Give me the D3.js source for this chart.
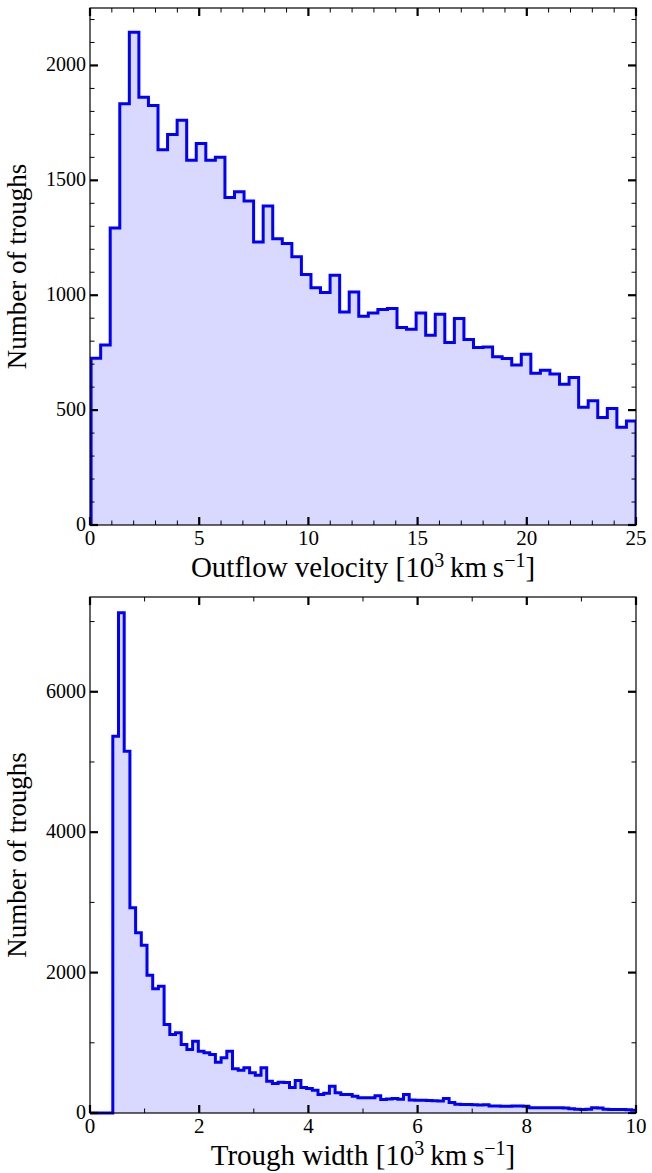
<!DOCTYPE html>
<html>
<head>
<meta charset="utf-8">
<script src="https://cdn.jsdelivr.net/npm/d3@7"></script>
<style>
  html, body { margin: 0; padding: 0; background: #ffffff; }
  svg { display: block; }
  text { font-family: "Liberation Serif", "DejaVu Serif", serif; fill: #000; }
</style>
</head>
<body>
<svg id="chart" width="652" height="1173"></svg>
<script>
// ---- Outflow velocity histogram (10^3 km/s), 57 equal bins ----
const velocityBinLow = 0.05;
const velocityBinHigh = 25;
const velocityCounts = [
  726, 783, 1293, 1833, 2145, 1862, 1826, 1633, 1699, 1761,
  1587, 1660, 1587, 1601, 1425, 1450, 1410, 1232, 1388, 1246,
  1225, 1167, 1090, 1033, 1012, 1087, 927, 1014, 909, 923,
  938, 942, 860, 852, 923, 826, 917, 794, 899, 807,
  773, 775, 732, 725, 696, 743, 660, 674, 657, 613,
  642, 512, 541, 468, 507, 425, 453
];
const velocityXTicks = [0, 5, 10, 15, 20, 25];
const velocityYTicks = [0, 500, 1000, 1500, 2000];

// ---- Trough width histogram (10^3 km/s), bins starting at 0 ----
const widthBinSize = 0.1044;
const widthCounts = [
  0, 0, 0, 0, 5367, 7125, 5154, 2923, 2567, 2390,
  1963, 1769, 1806, 1261, 1118, 1142, 976, 905, 1023, 880,
  857, 833, 724, 786, 880, 630, 610, 644, 573, 538,
  644, 453, 420, 439, 434, 363, 463, 363, 348, 325,
  263, 280, 382, 288, 263, 263, 240, 216, 216, 216,
  245, 192, 200, 205, 195, 265, 185, 182, 180, 178,
  175, 170, 205, 150, 125, 122, 120, 118, 115, 118,
  100, 98, 97, 95, 98, 100, 96, 76, 75, 74,
  74, 75, 74, 72, 60, 52, 50, 52, 74, 72,
  52, 50, 50, 50, 45, 40
];
const widthXTicks = [0, 2, 4, 6, 8, 10];
const widthYTicks = [0, 2000, 4000, 6000];

const svg = d3.select("#chart");
const plotLeft = 90, plotRight = 636;

const panels = [
  {
    top: 8, bottom: 525,
    xDomain: [0, 25], yDomain: [0, 2250],
    edges: d3.range(velocityCounts.length + 1).map(i =>
      velocityBinLow + i * (velocityBinHigh - velocityBinLow) / velocityCounts.length),
    counts: velocityCounts,
    xTicks: velocityXTicks, xMinor: d3.range(0, 26, 1),
    yTicks: velocityYTicks, yMinor: d3.range(0, 2251, 100),
    xLabel: "Outflow velocity",
    id: "vel"
  },
  {
    top: 597, bottom: 1113,
    xDomain: [0, 10], yDomain: [0, 7350],
    edges: d3.range(widthCounts.length + 1).map(i => i * widthBinSize),
    counts: widthCounts,
    xTicks: widthXTicks, xMinor: d3.range(0, 11, 1),
    yTicks: widthYTicks, yMinor: d3.range(0, 7351, 1000),
    xLabel: "Trough width",
    id: "wid"
  }
];

panels.forEach(p => {
  const x = d3.scaleLinear().domain(p.xDomain).range([plotLeft, plotRight]);
  const y = d3.scaleLinear().domain(p.yDomain).range([p.bottom, p.top]);
  const g = svg.append("g");

  g.append("clipPath").attr("id", "clip-" + p.id)
    .append("rect")
    .attr("x", plotLeft).attr("y", p.top - 4)
    .attr("width", plotRight - plotLeft).attr("height", p.bottom - p.top + 8);

  // histogram as step outline
  const n = p.counts.length;
  const pts = p.counts.map((c, i) => [p.edges[i], c]);
  pts.push([p.edges[n], p.counts[n - 1]]);

  const area = d3.area()
    .x(d => x(d[0])).y0(y(0)).y1(d => y(d[1]))
    .curve(d3.curveStepAfter);

  const outlinePts = [[p.edges[0], 0]].concat(pts, [[p.edges[n], 0]]);
  const line = d3.line()
    .x(d => x(d[0])).y(d => y(d[1]))
    .curve(d3.curveStepAfter);

  const hist = g.append("g").attr("clip-path", "url(#clip-" + p.id + ")");
  hist.append("path").attr("d", area(pts))
    .attr("fill", "#d9d9ff").attr("stroke", "none");

  // frame
  g.append("rect")
    .attr("x", plotLeft).attr("y", p.top)
    .attr("width", plotRight - plotLeft).attr("height", p.bottom - p.top)
    .attr("fill", "none").attr("stroke", "#000").attr("stroke-width", 1.2);

  hist.append("path").attr("d", line(outlinePts))
    .attr("fill", "none").attr("stroke", "#0000ff")
    .attr("stroke-width", 3).attr("stroke-linejoin", "miter");

  // ticks on all four sides, pointing inward
  const ticks = g.append("g").attr("stroke", "#000");
  const majorLen = 8, minorLen = 4.5;
  p.xMinor.filter(v => !p.xTicks.includes(v)).forEach(v => {
    ticks.append("line").attr("x1", x(v)).attr("x2", x(v))
      .attr("y1", p.bottom).attr("y2", p.bottom - minorLen).attr("stroke-width", 1);
    ticks.append("line").attr("x1", x(v)).attr("x2", x(v))
      .attr("y1", p.top).attr("y2", p.top + minorLen).attr("stroke-width", 1);
  });
  p.xTicks.forEach(v => {
    ticks.append("line").attr("x1", x(v)).attr("x2", x(v))
      .attr("y1", p.bottom).attr("y2", p.bottom - majorLen).attr("stroke-width", 2.2);
    ticks.append("line").attr("x1", x(v)).attr("x2", x(v))
      .attr("y1", p.top).attr("y2", p.top + majorLen).attr("stroke-width", 2.2);
  });
  p.yMinor.filter(v => !p.yTicks.includes(v)).forEach(v => {
    ticks.append("line").attr("x1", plotLeft).attr("x2", plotLeft + minorLen)
      .attr("y1", y(v)).attr("y2", y(v)).attr("stroke-width", 1);
    ticks.append("line").attr("x1", plotRight).attr("x2", plotRight - minorLen)
      .attr("y1", y(v)).attr("y2", y(v)).attr("stroke-width", 1);
  });
  p.yTicks.forEach(v => {
    ticks.append("line").attr("x1", plotLeft).attr("x2", plotLeft + majorLen)
      .attr("y1", y(v)).attr("y2", y(v)).attr("stroke-width", 2.2);
    ticks.append("line").attr("x1", plotRight).attr("x2", plotRight - majorLen)
      .attr("y1", y(v)).attr("y2", y(v)).attr("stroke-width", 2.2);
  });

  // tick labels
  g.selectAll(".xl").data(p.xTicks).enter().append("text")
    .attr("x", d => x(d)).attr("y", p.bottom + 20)
    .attr("text-anchor", "middle").attr("font-size", 21)
    .text(d => d);
  g.selectAll(".yl").data(p.yTicks).enter().append("text")
    .attr("x", plotLeft - 4).attr("y", d => y(d) + 6)
    .attr("text-anchor", "end").attr("font-size", 20)
    .text(d => d);

  // axis titles
  const xt = g.append("text")
    .attr("x", (plotLeft + plotRight) / 2).attr("y", p.bottom + 52)
    .attr("text-anchor", "middle").attr("font-size", 29);
  xt.append("tspan").text(p.xLabel + " [10");
  xt.append("tspan").attr("dy", -10).attr("font-size", 20).text("3");
  xt.append("tspan").attr("dy", 10).text("\u2009km\u2009s");
  xt.append("tspan").attr("dy", -10).attr("font-size", 20).text("\u22121");
  xt.append("tspan").attr("dy", 10).text("]");

  g.append("text")
    .attr("transform", `translate(26,${(p.top + p.bottom) / 2}) rotate(-90)`)
    .attr("text-anchor", "middle").attr("font-size", 27)
    .text("Number of troughs");
});
</script>
</body>
</html>
